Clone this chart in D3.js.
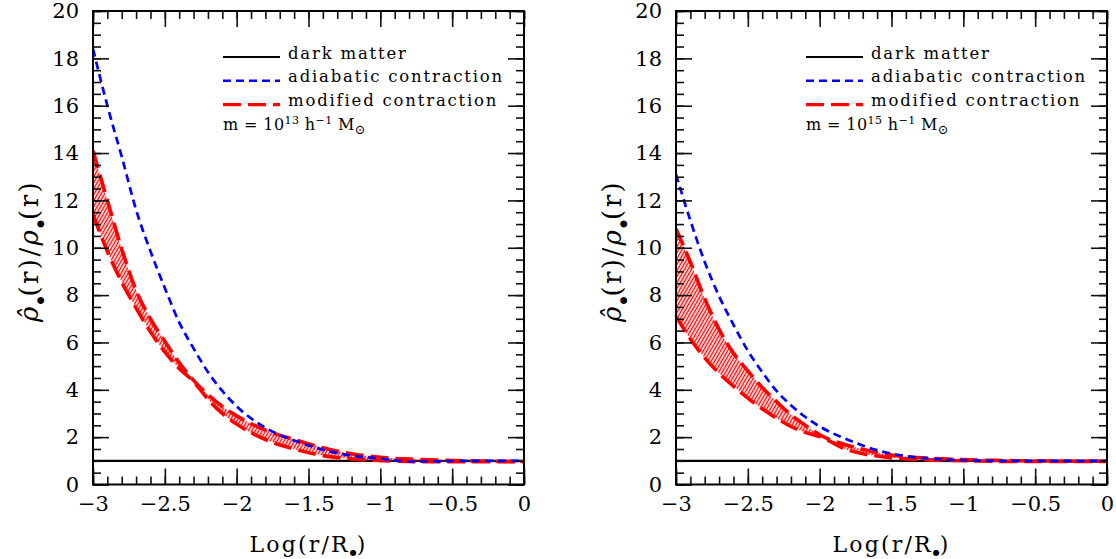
<!DOCTYPE html>
<html>
<head>
<meta charset="utf-8">
<script src="https://cdn.jsdelivr.net/npm/d3@7"></script>
<style>
  body { margin: 0; background: #fff; }
  svg text { font-family: "DejaVu Serif", serif; fill: #000; }
</style>
</head>
<body>
<div id="chart"></div>
<script>
// log(r/R) sampling shared by all profiles
var logR = [-3, -2.9, -2.8, -2.7, -2.6, -2.5, -2.4, -2.3, -2.2, -2.1, -2.0,
            -1.8, -1.6, -1.4, -1.2, -1.0, -0.8, -0.6, -0.4, -0.2, 0];

// dark matter reference (ratio = 1)
var darkMatterR = [-3, 0];
var darkMatter = [1, 1];

// m = 1e13 halo
var adiabatic13 = [18.4, 16.0, 13.85, 11.6, 9.85, 8.3, 6.85, 5.75, 4.75, 3.95, 3.3,
                   2.4, 1.86, 1.47, 1.22, 1.1, 0.97, 0.98, 1.0, 1.0, 1.0];
var modHi13 = [14.1, 12.0, 9.95, 8.2, 7.0, 6.05, 5.15, 4.4, 3.8, 3.3, 2.9,
               2.3, 1.9, 1.55, 1.3, 1.15, 1.07, 1.03, 1.0, 0.98, 0.97];
var modLo13 = [11.4, 9.85, 8.55, 7.45, 6.45, 5.6, 4.9, 4.35, 3.6, 3.0, 2.55,
               1.9, 1.5, 1.22, 1.08, 1.01, 0.97, 0.96, 0.96, 0.96, 0.96];

// m = 1e15 halo
var adiabatic15 = [13.1, 11.15, 9.4, 7.95, 6.75, 5.65, 4.75, 3.95, 3.35, 2.85, 2.45,
                   1.88, 1.45, 1.2, 1.08, 1.03, 1.0, 1.0, 1.0, 1.0, 1.0];
var modHi15 = [10.8, 9.4, 7.85, 6.55, 5.55, 4.8, 4.1, 3.5, 2.95, 2.5, 2.1,
               1.65, 1.35, 1.18, 1.1, 1.05, 1.02, 1.0, 0.99, 0.98, 0.98];
var modLo15 = [7.1, 6.15, 5.35, 4.7, 4.15, 3.65, 3.2, 2.8, 2.45, 2.2, 2.02,
               1.45, 1.2, 1.08, 1.03, 1.0, 0.98, 0.97, 0.97, 0.97, 0.97];

var xTicks = [-3, -2.5, -2, -1.5, -1, -0.5, 0];
var yTicks = [0, 2, 4, 6, 8, 10, 12, 14, 16, 18, 20];
var legendLabels = ["dark matter", "adiabatic contraction", "modified contraction"];
var massExps = ["13", "15"];

var W = 1116, H = 559;
var pw = 431, plotTop = 11, plotBottom = 484.5;

var svg = d3.select("#chart").append("svg")
            .attr("width", W)
            .attr("height", H);

var defs = svg.append("defs");

// red diagonal hatching for the modified-contraction band
var hatch = defs.append("pattern")
                .attr("id", "hatch")
                .attr("patternUnits", "userSpaceOnUse")
                .attr("width", 3)
                .attr("height", 3)
                .attr("patternTransform", "rotate(30)");
hatch.append("line")
     .attr("x1", 1.5).attr("y1", 0)
     .attr("x2", 1.5).attr("y2", 3)
     .attr("stroke", "#ff0000")
     .attr("stroke-width", 1.4);

function fmt(d) {
  return d < 0 ? "\u2212" + Math.abs(d) : String(d);
}

function dot(t, size, shift) {
  t.append("tspan").attr("dy", shift).style("font-size", size + "px")
   .style("letter-spacing", "0px").text("\u25cf");
  return -shift;
}

function drawPanel(idx, x0, ad, hi, lo, mexp) {
  var g = svg.append("g");

  var x = d3.scaleLinear().domain([-3, 0]).range([x0, x0 + pw]);
  var y = d3.scaleLinear().domain([0, 20]).range([plotBottom, plotTop]);

  defs.append("clipPath").attr("id", "clip" + idx)
      .append("rect")
      .attr("x", x0).attr("y", plotTop)
      .attr("width", pw).attr("height", plotBottom - plotTop);

  var plot = g.append("g").attr("clip-path", "url(#clip" + idx + ")");

  var line = d3.line()
               .x(function(d) { return x(d[0]); })
               .y(function(d) { return y(d[1]); })
               .curve(d3.curveMonotoneX);

  // dark matter
  plot.append("path")
      .datum(d3.zip(darkMatterR, darkMatter))
      .attr("d", line)
      .attr("fill", "none")
      .attr("stroke", "#000")
      .attr("stroke-width", 2.2);

  // hatched band between the two modified-contraction curves
  var band = d3.area()
               .x(function(d) { return x(d[0]); })
               .y0(function(d) { return y(d[2]); })
               .y1(function(d) { return y(d[1]); })
               .curve(d3.curveMonotoneX);
  plot.append("path")
      .datum(d3.zip(logR, hi, lo))
      .attr("d", band)
      .attr("fill", "url(#hatch)");

  [hi, lo].forEach(function(s) {
    plot.append("path")
        .datum(d3.zip(logR, s))
        .attr("d", line)
        .attr("fill", "none")
        .attr("stroke", "#ff0000")
        .attr("stroke-width", 3.6)
        .attr("stroke-dasharray", "18,7");
  });

  plot.append("path")
      .datum(d3.zip(logR, ad))
      .attr("d", line)
      .attr("fill", "none")
      .attr("stroke", "#0000ff")
      .attr("stroke-width", 2.7)
      .attr("stroke-dasharray", "8,5");

  // ticks on all four sides, pointing inward
  var minorX = d3.range(-30, 1).map(function(k) { return k / 10; });
  var minorY = d3.range(0, 41).map(function(k) { return k / 2; });

  function axis(gen, scale, vals, size, pos, labels) {
    var a = gen(scale).tickValues(vals).tickSize(-size)
                      .tickFormat(labels ? fmt : "");
    var ag = g.append("g").attr("transform", pos).call(a);
    ag.select(".domain").remove();
    ag.attr("font-family", null).attr("font-size", null);
    ag.selectAll(".tick line").attr("stroke", "#111").attr("stroke-width", 1.6);
    return ag;
  }

  var bx = axis(d3.axisBottom, x, xTicks, 16, "translate(0," + plotBottom + ")", true);
  bx.selectAll(".tick text").attr("y", 12);
  axis(d3.axisBottom, x, minorX, 8, "translate(0," + plotBottom + ")", false);
  axis(d3.axisTop, x, xTicks, 16, "translate(0," + plotTop + ")", false);
  axis(d3.axisTop, x, minorX, 8, "translate(0," + plotTop + ")", false);

  var ly = axis(d3.axisLeft, y, yTicks, 16, "translate(" + x0 + ",0)", true);
  ly.selectAll(".tick text").attr("x", -14);
  axis(d3.axisLeft, y, minorY, 8, "translate(" + x0 + ",0)", false);
  axis(d3.axisRight, y, yTicks, 16, "translate(" + (x0 + pw) + ",0)", false);
  axis(d3.axisRight, y, minorY, 8, "translate(" + (x0 + pw) + ",0)", false);

  g.selectAll(".tick text").style("font-size", "21px");

  g.append("rect")
   .attr("x", x0).attr("y", plotTop)
   .attr("width", pw).attr("height", plotBottom - plotTop)
   .attr("fill", "none")
   .attr("stroke", "#000")
   .attr("stroke-width", 2);

  // axis titles
  var xl = g.append("text")
            .attr("x", x0 + pw / 2)
            .attr("y", 552)
            .attr("text-anchor", "middle")
            .style("font-size", "22px")
            .style("letter-spacing", "2.2px");
  xl.append("tspan").text("Log(r/R");
  var back = dot(xl, 8, 3);
  xl.append("tspan").attr("dy", back).text(")");

  var yl = g.append("text")
            .attr("transform", "translate(" + (x0 - 55) + ",251) rotate(-90)")
            .attr("text-anchor", "middle")
            .style("font-size", "26px")
            .style("letter-spacing", "2.4px");
  yl.append("tspan").style("font-style", "italic").text("\u03c1\u0302");
  back = dot(yl, 9, 5);
  yl.append("tspan").attr("dy", back).text("(r)/");
  yl.append("tspan").style("font-style", "italic").text("\u03c1");
  back = dot(yl, 9, 5);
  yl.append("tspan").attr("dy", back).text("(r)");

  // legend
  var lx = x0 + 130;
  var rows = [
    { stroke: "#000", dash: null, w: 2.2 },
    { stroke: "#0000ff", dash: "8,5", w: 2.6 },
    { stroke: "#ff0000", dash: "18,7", w: 3.2 }
  ];
  rows.forEach(function(r, i) {
    var yy = 57 + i * 23.8;
    g.append("line")
     .attr("x1", lx).attr("x2", lx + 57)
     .attr("y1", yy).attr("y2", yy)
     .attr("stroke", r.stroke)
     .attr("stroke-width", r.w)
     .attr("stroke-dasharray", r.dash);
    g.append("text")
     .attr("x", lx + 65)
     .attr("y", yy + 1.5)
     .style("font-size", "16.5px")
     .style("letter-spacing", "1.8px")
     .text(legendLabels[i]);
  });

  var mt = g.append("text")
            .attr("x", lx)
            .attr("y", 130)
            .style("font-size", "16px")
            .style("letter-spacing", "0.4px");
  mt.append("tspan").text("m = 10");
  mt.append("tspan").attr("dy", -6).style("font-size", "11px").text(mexp);
  mt.append("tspan").attr("dy", 6).text(" h");
  mt.append("tspan").attr("dy", -6).style("font-size", "11px").text("\u22121");
  mt.append("tspan").attr("dy", 6).text(" M");
  mt.append("tspan").attr("dy", 4).style("font-size", "13px").text("\u2299");
}

drawPanel(0, 93, adiabatic13, modHi13, modLo13, massExps[0]);
drawPanel(1, 676, adiabatic15, modHi15, modLo15, massExps[1]);
</script>
</body>
</html>
